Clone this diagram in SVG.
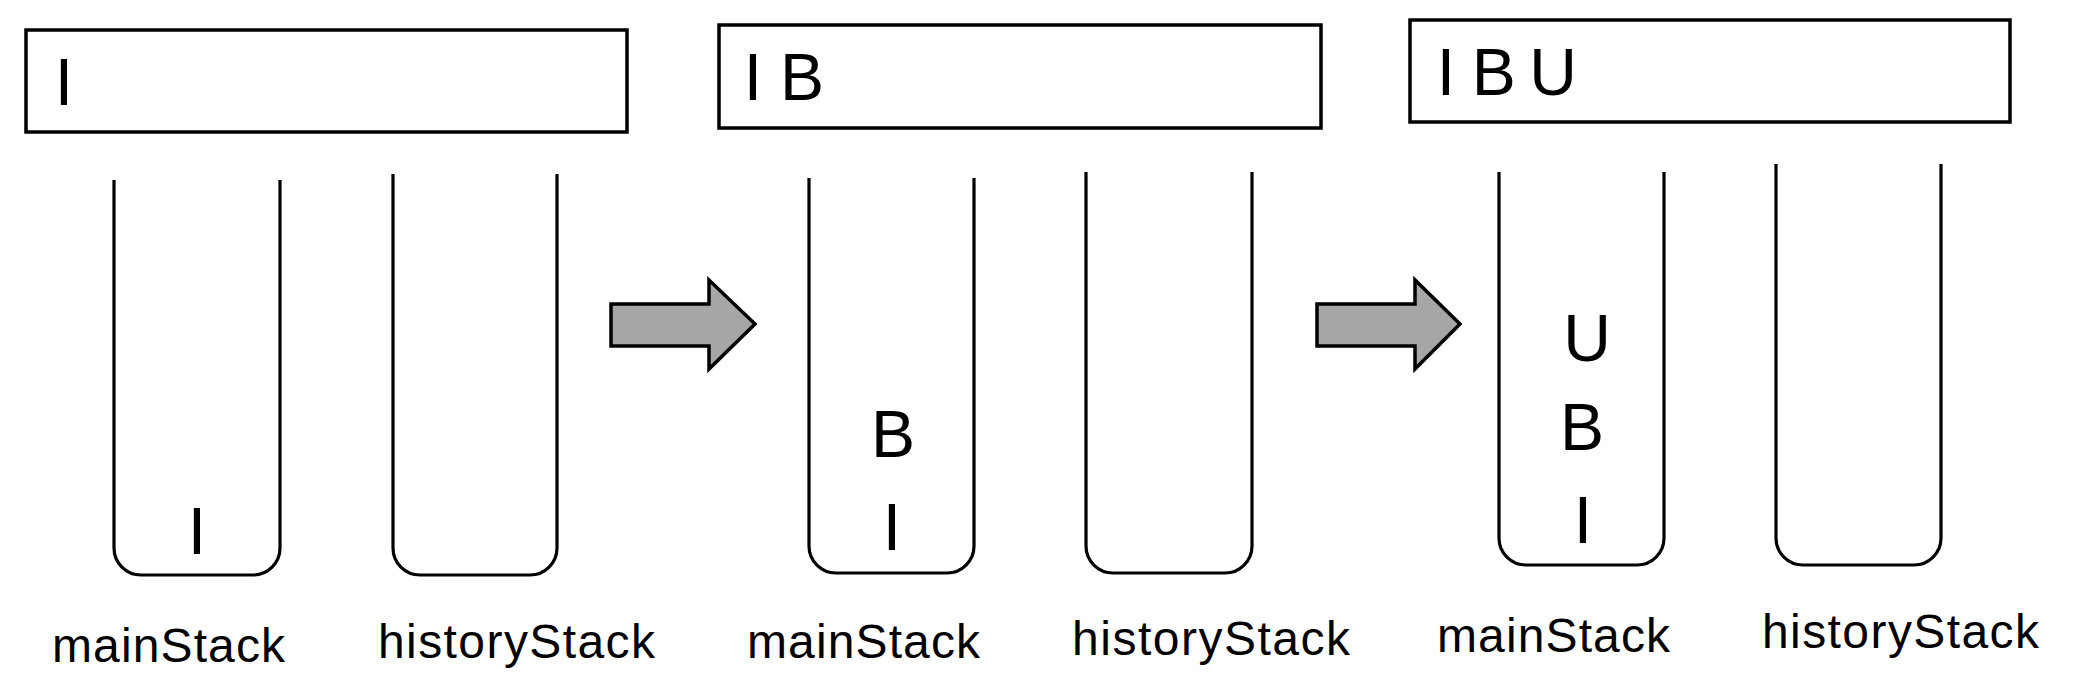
<svg xmlns="http://www.w3.org/2000/svg" width="2082" height="696" viewBox="0 0 2082 696">
<style>
.box{fill:#fff;stroke:#000;stroke-width:3.5}
.stk{fill:none;stroke:#000;stroke-width:3.2}
.arr{fill:#a6a6a6;stroke:#000;stroke-width:3.5;stroke-linejoin:miter}
.big{font-family:"Liberation Sans",Arial,sans-serif;font-size:66px;fill:#000;text-anchor:middle}
.lbl{font-family:"Liberation Sans",Arial,sans-serif;font-size:48px;fill:#000}
</style>
<rect width="2082" height="696" fill="#fff"/>
<g id="state1">
  <g id="box1"><rect class="box" x="26" y="30" width="601" height="102"/>
    <text class="big" x="64" y="105">I</text></g>
  <g id="mainStack1"><path class="stk" d="M114,180 V548 A27,27 0 0 0 141,575 H253 A27,27 0 0 0 280,548 V180"/>
    <text class="big" x="197" y="554">I</text>
    <text class="lbl" x="52" y="662" textLength="233" lengthAdjust="spacing">mainStack</text></g>
  <g id="historyStack1"><path class="stk" d="M393,174 V548 A27,27 0 0 0 420,575 H530 A27,27 0 0 0 557,548 V174"/>
    <text class="lbl" x="378" y="658" textLength="277" lengthAdjust="spacing">historyStack</text></g>
</g>
<g id="state2">
  <g id="box2"><rect class="box" x="719" y="25" width="602" height="103"/>
    <text class="big" y="100"><tspan x="762">I</tspan> <tspan x="802">B</tspan></text></g>
  <g id="mainStack2"><path class="stk" d="M809,178 V546 A27,27 0 0 0 836,573 H947 A27,27 0 0 0 974,546 V178"/>
    <text class="big" x="893" y="457">B</text>
    <text class="big" x="892" y="550">I</text>
    <text class="lbl" x="747" y="658" textLength="233" lengthAdjust="spacing">mainStack</text></g>
  <g id="historyStack2"><path class="stk" d="M1086,172 V546 A27,27 0 0 0 1113,573 H1225 A27,27 0 0 0 1252,546 V172"/>
    <text class="lbl" x="1072" y="655" textLength="278" lengthAdjust="spacing">historyStack</text></g>
</g>
<g id="state3">
  <g id="box3"><rect class="box" x="1410" y="20" width="600" height="102"/>
    <text class="big" y="95"><tspan x="1455">I</tspan> <tspan x="1503">B</tspan> <tspan x="1553">U</tspan></text></g>
  <g id="mainStack3"><path class="stk" d="M1499,172 V538 A27,27 0 0 0 1526,565 H1637 A27,27 0 0 0 1664,538 V172"/>
    <text class="big" x="1587" y="361">U</text>
    <text class="big" x="1582" y="450">B</text>
    <text class="big" x="1583" y="543">I</text>
    <text class="lbl" x="1437" y="652" textLength="233" lengthAdjust="spacing">mainStack</text></g>
  <g id="historyStack3"><path class="stk" d="M1776,164 V538 A27,27 0 0 0 1803,565 H1914 A27,27 0 0 0 1941,538 V164"/>
    <text class="lbl" x="1762" y="648" textLength="277" lengthAdjust="spacing">historyStack</text></g>
</g>
<g id="connectors">
  <path class="arr" d="M611,304 H709 V280 L755,324 L709,369 V346 H611 Z"/>
  <path class="arr" d="M1317,304 H1415 V280 L1460,324 L1415,369 V346 H1317 Z"/>
</g>
</svg>
